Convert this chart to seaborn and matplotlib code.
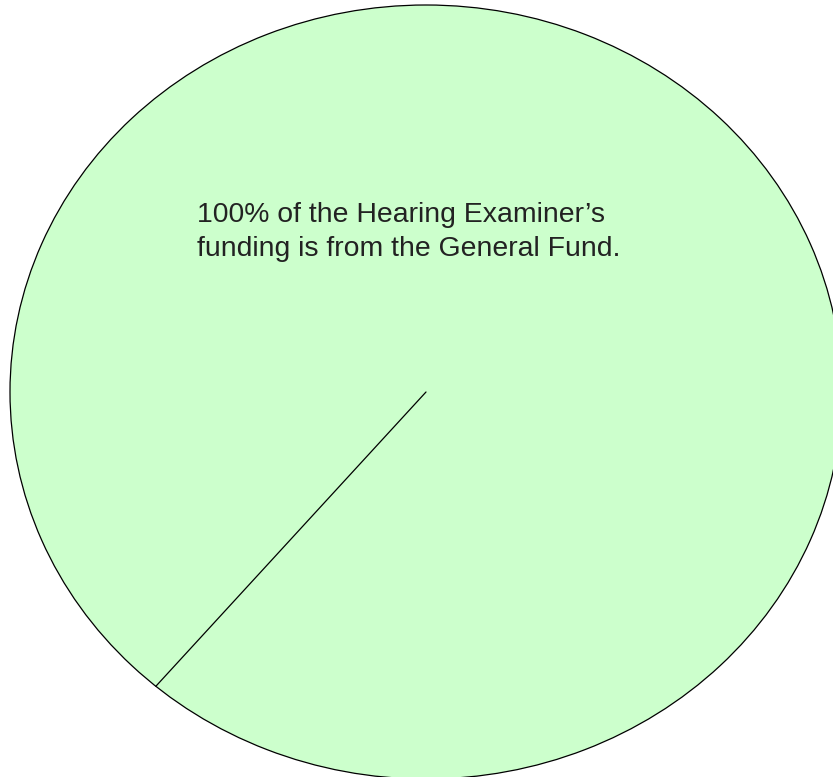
import matplotlib
matplotlib.use("Agg")
import matplotlib.pyplot as plt
import seaborn as sns
import numpy as np

labels = ["General Fund"]
values = [100]
colors = ["#ccffcc"]
note_lines = ["100% of the Hearing Examiner\u2019s", "funding is from the General Fund."]
start_angle = 229.5

sns.set_theme(style="white")
plt.rcParams['font.family'] = ['Liberation Sans', 'DejaVu Sans']

fig = plt.figure(figsize=(8.33, 7.77), dpi=100)
ax = fig.add_axes([0, 0, 1, 1])
ax.pie(values, colors=colors, startangle=start_angle, radius=1.0,
       wedgeprops=dict(edgecolor="black", linewidth=0.9), normalize=True)
# radial edge of the single full wedge
theta = np.deg2rad(start_angle)
ax.plot([0, np.cos(theta)], [0, np.sin(theta)], color="black", linewidth=0.9)
ax.set_aspect('auto')
ax.set_xlim(-426/416, (833-426)/416)
ax.set_ylim(-385/387, 392/387)
ax.axis('off')

ax.text((197-426)/416, (392-232)/387, note_lines[0] + "\n" + note_lines[1],
        ha='left', va='center', fontsize=20.4, color='#222222', linespacing=1.42)
fig.savefig("out.png", dpi=100)
